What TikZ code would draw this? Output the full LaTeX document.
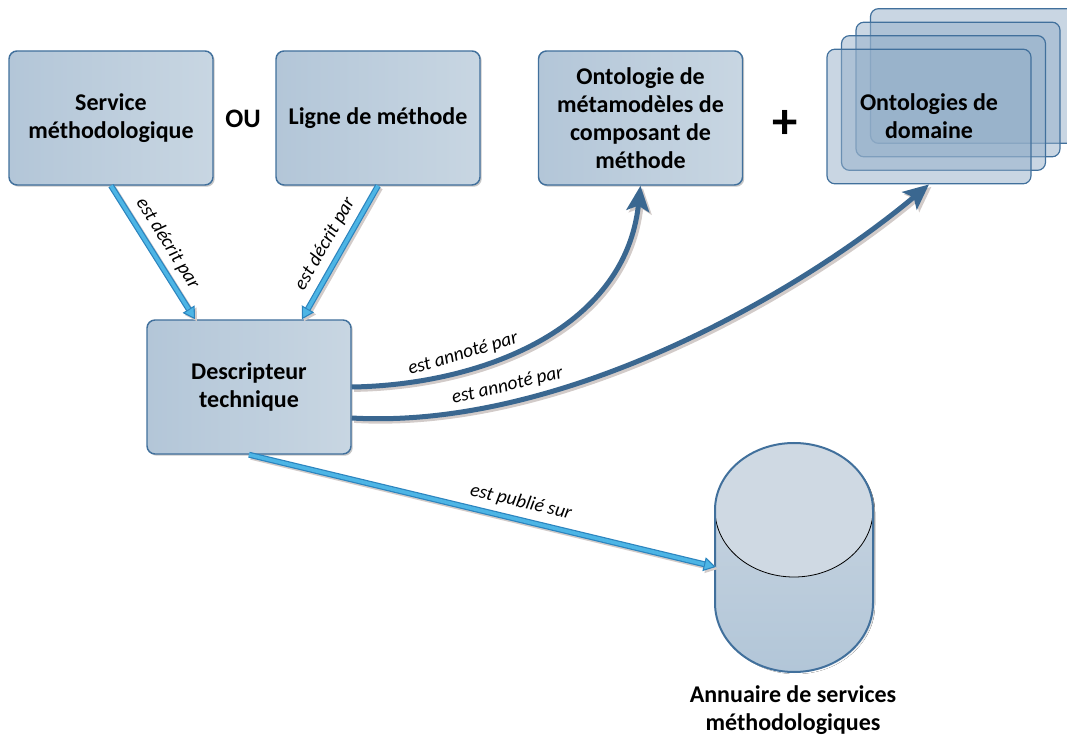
\documentclass[tikz,border=0pt]{standalone}
\usepackage{fontspec}
\setmainfont{Carlito}
\usetikzlibrary{arrows.meta,shadows,calc}

\definecolor{boxedge}{HTML}{41709C}
\definecolor{boxA}{HTML}{B3C6D8}
\definecolor{boxB}{HTML}{C8D6E2}
\definecolor{stackfill}{HTML}{93AEC8}
\definecolor{deep}{HTML}{3A6790}
\definecolor{sky}{HTML}{4DB5E5}
\definecolor{skyedge}{HTML}{2C84BE}
\definecolor{shade}{HTML}{D2CBC9}
\definecolor{cyltop}{HTML}{CFD9E3}
\definecolor{cylbody}{HTML}{B2C6D8}

\newcommand\boxfont{\fontsize{18}{21}\selectfont\bfseries}
\newcommand\labfont{\fontsize{14.5}{16}\selectfont\itshape}

\tikzset{
  box/.style={draw=boxedge, line width=1.1pt, rounded corners=6pt,
    left color=boxA, right color=boxB,
    minimum width=153pt, minimum height=100.5pt, inner sep=2pt,
    align=center, font=\boxfont,
    drop shadow={shadow xshift=1.3pt, shadow yshift=-1.3pt, fill=black, opacity=0.22}},
  stackbox/.style={draw=boxedge, line width=0.9pt, rounded corners=6pt,
    fill=stackfill, fill opacity=0.5, text opacity=1,
    minimum width=153pt, minimum height=101pt, inner sep=2pt,
    align=center, font=\boxfont},
  lab/.style={font=\labfont, sloped, above=3.5pt, inner sep=1pt},
  deeparrow/.style={draw=deep, line width=3.75pt,
    -{Stealth[length=19pt,width=17pt,inset=4pt]}},
  deepshadow/.style={draw=shade, line width=3.75pt,
    -{Stealth[length=19pt,width=17pt,inset=4pt]},
    transform canvas={shift={(1.8pt,-1.8pt)}}},
  skyarrow/.style={draw=skyedge, line width=4.5pt,
    -{Triangle[length=9pt,width=10.5pt,fill=sky,line width=0.8pt]}},
  skyinner/.style={draw=sky, line width=2.7pt, shorten >=9pt},
  skyshadow/.style={draw=shade, line width=4.5pt,
    -{Triangle[length=9pt,width=10.5pt,line width=0.8pt]},
    transform canvas={shift={(1.5pt,-1.5pt)}}},
}

\begin{document}
\begin{tikzpicture}[x=0.75pt,y=-0.75pt]
\useasboundingbox (0,0) rectangle (1067,737);

% upper row of boxes
\node[box] (serv) at (111,118) {Service\\méthodologique};
\node[font=\fontsize{20}{24}\selectfont\bfseries] (ou) at (243,119) {OU};
\node[box] (ligne) at (378,118) {Ligne de méthode};
\node[box] (onto) at (640.5,118) {Ontologie de\\métamodèles de\\composant de\\méthode};
\node[font=\fontsize{38}{40}\selectfont\bfseries] (plus) at (785,124) {+};

% stack of domain ontologies, back to front
\node[stackbox] (d4) at (972.5,76) {};
\node[stackbox] (d3) at (958,89.5) {};
\node[stackbox] (d2) at (943.5,103) {};
\node[stackbox] (dom) at (929,116.5) {Ontologies de\\domaine};

% technical descriptor
\node[box] (desc) at (249,387) {Descripteur\\technique};

% directory (cylinder)
\node[minimum width=118.5pt, minimum height=171.75pt, inner sep=0pt] (cyl) at (794,557.5) {};
\fill[shade, transform canvas={shift={(1.5pt,-1.5pt)}}]
  (715,510) arc[start angle=180, end angle=360, x radius=79, y radius=67]
  -- (873,603) arc[start angle=0, end angle=180, x radius=79, y radius=69] -- cycle;
\shade[top color=cyltop!85!cylbody, bottom color=cylbody]
  (715,510) arc[start angle=180, end angle=360, x radius=79, y radius=67]
  -- (873,603) arc[start angle=0, end angle=180, x radius=79, y radius=69] -- cycle;
\fill[cyltop]
  (794,510) ellipse[x radius=79, y radius=67];
\draw[black, line width=0.6pt]
  (715,510) arc[start angle=180, end angle=0, x radius=79, y radius=67];
\draw[boxedge, line width=1.5pt]
  (715,510) arc[start angle=180, end angle=360, x radius=79, y radius=67]
  -- (873,603) arc[start angle=0, end angle=180, x radius=79, y radius=69] -- cycle;
\node[font=\boxfont, align=center] (ann) at (793,710) {Annuaire de services\\méthodologiques};

% "est décrit par" connectors
\draw[skyshadow] (serv.south) -- ([xshift=-40.5pt]desc.north);
\draw[skyshadow] (ligne.south) -- ([xshift=39.75pt]desc.north);
\draw[skyarrow] (serv.south) -- ([xshift=-40.5pt]desc.north)
  node[lab, midway] {est décrit par};
\draw[skyinner] (serv.south) -- ([xshift=-40.5pt]desc.north);
\draw[skyarrow] (ligne.south) -- ([xshift=39.75pt]desc.north)
  node[lab, midway] {est décrit par};
\draw[skyinner] (ligne.south) -- ([xshift=39.75pt]desc.north);

% "est publié sur" connector
\draw[skyshadow] (desc.south) -- ($(cyl.west)+(1,9.5)$);
\draw[skyarrow] (desc.south) -- ($(cyl.west)+(1,9.5)$)
  node[lab, pos=0.574] {est publié sur};
\draw[skyinner] (desc.south) -- ($(cyl.west)+(1,9.5)$);

% "est annoté par" connectors
\draw[deepshadow] (desc.east) .. controls (480,385) and (625,330) .. (onto.south);
\draw[deepshadow] ([yshift=-23.25pt]desc.east) .. controls (560,430) and (797,295) .. (dom.south);
\draw[deeparrow] (desc.east) .. controls (480,385) and (625,330) .. (onto.south)
  node[lab, pos=0.3] {est annoté par};
\draw[deeparrow] ([yshift=-23.25pt]desc.east) .. controls (560,430) and (797,295) .. (dom.south)
  node[lab, pos=0.25] {est annoté par};
\end{tikzpicture}
\end{document}
